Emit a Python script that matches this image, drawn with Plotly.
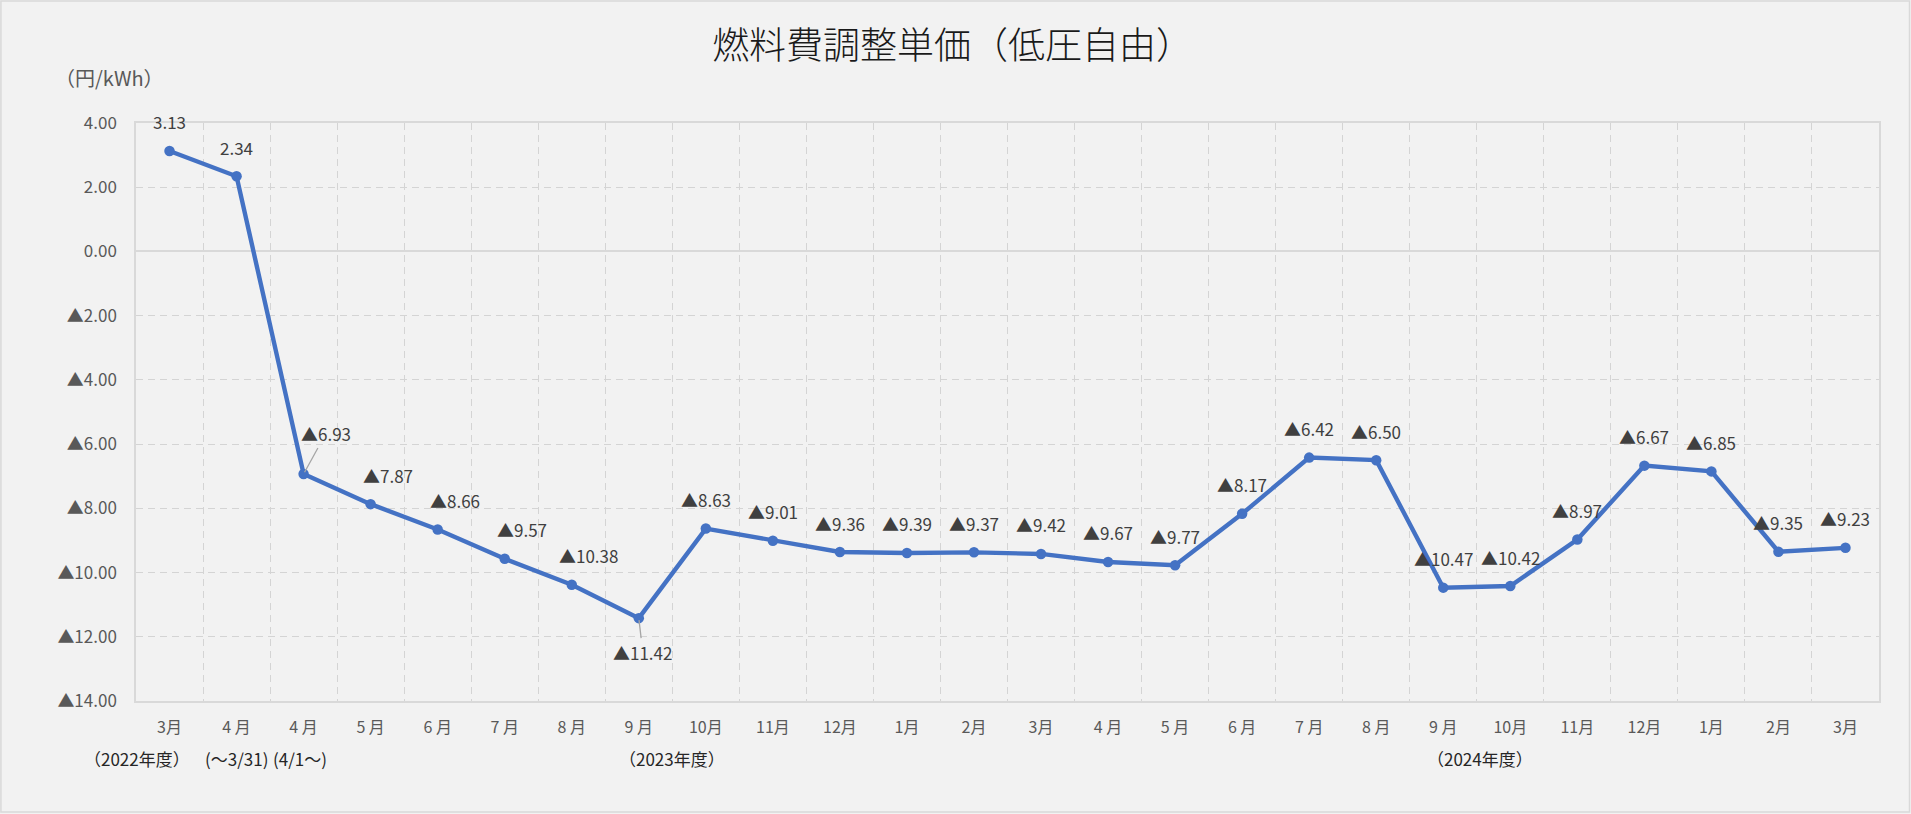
import plotly.graph_objects as go

# ---- data ----
months = ["3月", "4 月", "4 月", "5 月", "6 月", "7 月", "8 月", "9 月", "10月", "11月", "12月",
          "1月", "2月", "3月", "4 月", "5 月", "6 月", "7 月", "8 月", "9 月", "10月", "11月",
          "12月", "1月", "2月", "3月"]
values = [3.13, 2.34, -6.93, -7.87, -8.66, -9.57, -10.38, -11.42, -8.63, -9.01, -9.36,
          -9.39, -9.37, -9.42, -9.67, -9.77, -8.17, -6.42, -6.50, -10.47, -10.42, -8.97,
          -6.67, -6.85, -9.35, -9.23]
y_tick_vals = [4, 2, 0, -2, -4, -6, -8, -10, -12, -14]
group_labels = ["（2022年度）", "(～3/31)", "(4/1～)", "（2023年度）", "（2024年度）"]
group_pos = [-0.49, 1.0, 1.95, 7.49, 19.55]

# ---- label placement (pixel offsets, style only) ----
label_dx = [0] * len(values)
label_dy = [-29] * len(values)
for i in (3, 4, 5, 6):
    label_dx[i] = 17
label_dx[2], label_dy[2] = 22, -40
label_dx[7], label_dy[7] = 4, 34
leader = {2, 7}

FONT = "Noto Sans CJK JP"
x_idx = list(range(len(values)))


def fmt(v):
    return f"{v:.2f}" if v >= 0 else f"▲{abs(v):.2f}"


fig = go.Figure()
fig.add_trace(go.Scatter(
    x=x_idx, y=values, mode="lines+markers",
    line=dict(color="#4472C4", width=4.4),
    marker=dict(color="#4472C4", size=10.5),
    hoverinfo="skip", showlegend=False,
))

label_font = dict(family=FONT, size=17, color="#404040")
annotations = []
for i, v in enumerate(values):
    if i in leader:
        annotations.append(dict(
            x=i, y=v, xref="x", yref="y", text=fmt(v), showarrow=True,
            ax=label_dx[i], ay=label_dy[i], arrowhead=0, arrowwidth=1.3,
            arrowcolor="#A6A6A6", standoff=2, font=label_font))
    else:
        annotations.append(dict(
            x=i, y=v, xref="x", yref="y", text=fmt(v), showarrow=False,
            xshift=label_dx[i], yshift=-label_dy[i],
            xanchor="center", yanchor="middle", font=label_font))

for txt, pos in zip(group_labels, group_pos):
    annotations.append(dict(
        x=pos, y=-0.10, xref="x", yref="paper", text=txt, showarrow=False,
        xanchor="center", yanchor="middle",
        font=dict(family=FONT, size=17, color="#262626")))

annotations.append(dict(
    x=-0.015, y=1.078, xref="paper", yref="paper", text="（円/kWh）", showarrow=False,
    xanchor="center", yanchor="middle",
    font=dict(family=FONT, size=20, color="#595959")))

fig.update_layout(
    width=1911, height=814,
    margin=dict(l=136, r=32, t=123, b=113),
    paper_bgcolor="#F2F2F2", plot_bgcolor="#F2F2F2",
    title=dict(text="燃料費調整単価（低圧自由）", x=0.4985, xanchor="center", y=0.943, yanchor="middle",
               font=dict(family=FONT, size=37, color="#1A1A1A", weight=300)),
    annotations=annotations,
    shapes=[dict(type="rect", xref="paper", yref="paper",
                 x0=-0.0775, x1=1.0175, y0=-0.192, y1=1.211,
                 line=dict(color="#D9D9D9", width=1.5), layer="below")],
)

grid_kw = dict(gridcolor="#D4D4D4", griddash="7px,5px", gridwidth=1.4)
fig.update_xaxes(
    range=[-0.5, len(values) - 0.5],
    tickmode="array", tickvals=x_idx, ticktext=months,
    showgrid=False, zeroline=False, ticks="",
    tickfont=dict(family=FONT, size=16, color="#595959"),
    ticklabelstandoff=11,
    showline=True, linecolor="#D9D9D9", linewidth=1.5, mirror=True,
    minor=dict(tickvals=[i - 0.5 for i in range(len(values) + 1)], showgrid=True, ticks="", **grid_kw),
)
fig.update_yaxes(
    range=[-14, 4],
    tickmode="array", tickvals=y_tick_vals, ticktext=[fmt(v) for v in y_tick_vals],
    showgrid=True, **grid_kw,
    zeroline=True, zerolinecolor="#D9D9D9", zerolinewidth=1.5,
    ticks="", ticklabelstandoff=14,
    tickfont=dict(family=FONT, size=17, color="#595959"),
    showline=True, linecolor="#D9D9D9", linewidth=1.5, mirror=True,
)

fig.write_html("out.html")
